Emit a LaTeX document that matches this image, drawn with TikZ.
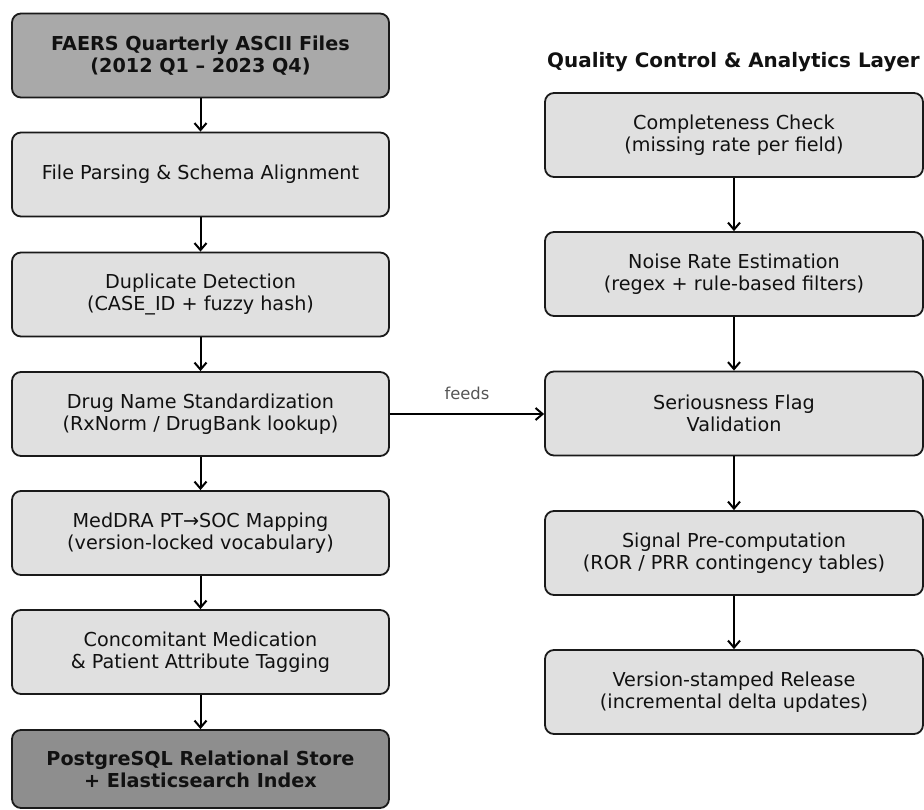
\documentclass[tikz,border=0pt]{standalone}
\usepackage{fontspec}
\setmainfont{DejaVu Sans}
\usetikzlibrary{arrows.meta}
\definecolor{boxlight}{HTML}{E0E0E0}
\definecolor{boxtop}{HTML}{A9A9A9}
\definecolor{boxbot}{HTML}{8E8E8E}
\definecolor{edgec}{HTML}{1A1A1A}
\definecolor{feedc}{HTML}{555555}
\definecolor{txtc}{HTML}{111111}
\tikzset{
  base/.style={draw=edgec, line width=1.8bp, rounded corners=9bp, align=center,
    font=\fontsize{19.2bp}{22bp}\selectfont, text=txtc, inner sep=0pt},
  lbox/.style={base, fill=boxlight, minimum width=377bp, minimum height=84bp},
  rbox/.style={base, fill=boxlight, minimum width=378bp, minimum height=84bp},
  topbox/.style={lbox, fill=boxtop, font=\fontsize{19.2bp}{22bp}\selectfont\bfseries},
  botbox/.style={lbox, fill=boxbot, minimum height=78bp, font=\fontsize{19.2bp}{22bp}\selectfont\bfseries},
  conn/.style={draw=black, line width=2bp, -{Straight Barb[length=7bp,width=12bp,line width=2bp]}},
}
\begin{document}
\begin{tikzpicture}[x=1bp,y=-1bp]
\useasboundingbox (0,0) rectangle (924,810);
% left column
\node[topbox] (a1) at (200.5,55.5) {FAERS Quarterly ASCII Files\\(2012 Q1 – 2023 Q4)};
\node[lbox] (a2) at (200.5,174.5) {File Parsing \& Schema Alignment};
\node[lbox] (a3) at (200.5,294.5) {Duplicate Detection\\(CASE\_ID + fuzzy hash)};
\node[lbox] (a4) at (200.5,414) {Drug Name Standardization\\(RxNorm / DrugBank lookup)};
\node[lbox] (a5) at (200.5,533) {MedDRA PT→SOC Mapping\\(version-locked vocabulary)};
\node[lbox] (a6) at (200.5,652) {Concomitant Medication\\\& Patient Attribute Tagging};
\node[botbox] (a7) at (200.5,769) {PostgreSQL Relational Store\\+ Elasticsearch Index};
% right column
\node[font=\fontsize{19.9bp}{22bp}\selectfont\bfseries, text=txtc] (title) at (733.5,62) {Quality Control \& Analytics Layer};
\node[rbox] (b1) at (734,135) {Completeness Check\\(missing rate per field)};
\node[rbox] (b2) at (734,274) {Noise Rate Estimation\\(regex + rule-based filters)};
\node[rbox] (b3) at (734,413.5) {Seriousness Flag\\Validation};
\node[rbox] (b4) at (734,553) {Signal Pre-computation\\(ROR / PRR contingency tables)};
\node[rbox] (b5) at (734,692) {Version-stamped Release\\(incremental delta updates)};
% connectors
\draw[conn] (a1) -- (a2);
\draw[conn] (a2) -- (a3);
\draw[conn] (a3) -- (a4);
\draw[conn] (a4) -- (a5);
\draw[conn] (a5) -- (a6);
\draw[conn] (a6) -- (a7);
\draw[conn] (b1) -- (b2);
\draw[conn] (b2) -- (b3);
\draw[conn] (b3) -- (b4);
\draw[conn] (b4) -- (b5);
\draw[conn] (a4.east) -- node[above=10bp, text=feedc, font=\fontsize{16.4bp}{19bp}\selectfont] (fl) {feeds} (a4.east -| b3.west);
\end{tikzpicture}
\end{document}
